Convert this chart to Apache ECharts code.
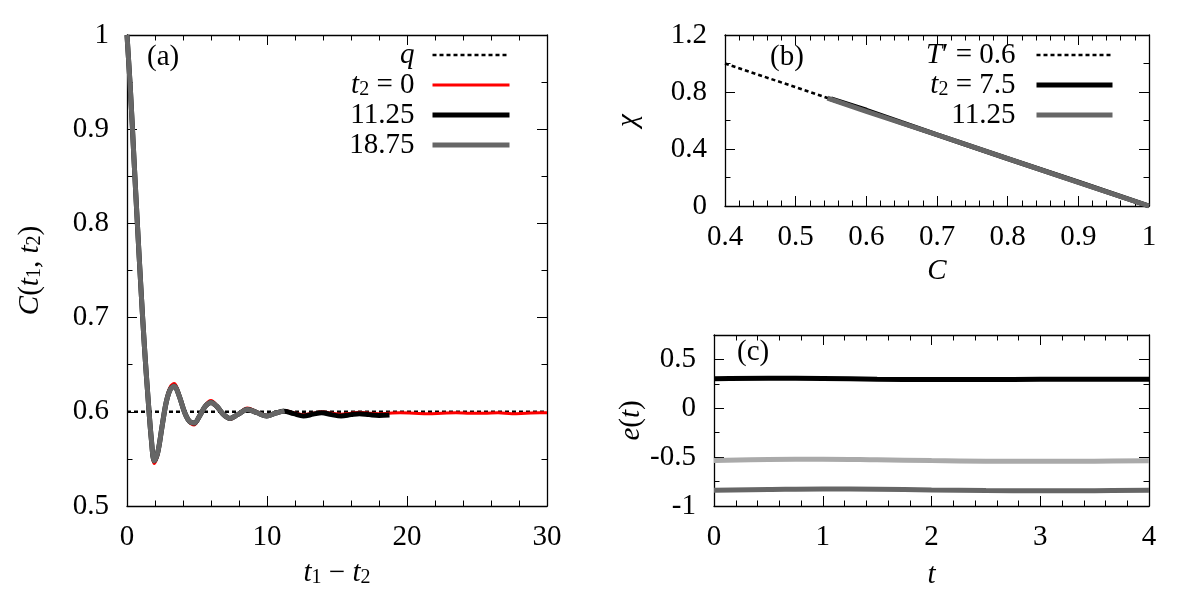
<!DOCTYPE html>
<html><head><meta charset="utf-8">
<script src="https://cdn.jsdelivr.net/npm/echarts@6/dist/echarts.min.js"></script>
<style>html,body{margin:0;padding:0;background:#fff}#c{width:1200px;height:600px}</style>
</head><body><div id="c"></div>
<script>
// ---------- Panel (a): C(t1,t2) vs t1 - t2 ----------
const aQT = [0, 30];
const aQC = [0.6, 0.6];
const aRedT = [0,0.25,0.5,0.75,1,1.25,1.5,1.75,1.95,2.2,2.5,2.8,3.1,3.38,3.7,4.1,4.45,4.8,5.2,5.6,6.0,6.4,6.9,7.36,7.9,8.6,9.3,9.98,10.6,11.2,11.9,12.6,13.3,13.9,14.6,15.3,16.0,16.6,17.3,18.0,18.7,19.5,20.5,21.5,22.5,23.5,24.5,25.5,26.5,27.5,28.5,29.5,30];
const aRedC = [1,0.94,0.868,0.796,0.728,0.666,0.612,0.566,0.545,0.554,0.583,0.612,0.627,0.630,0.620,0.600,0.589,0.586,0.595,0.607,0.612,0.607,0.597,0.592,0.597,0.604,0.600,0.596,0.599,0.6015,0.599,0.597,0.5985,0.600,0.5985,0.5975,0.5985,0.5995,0.5985,0.598,0.5985,0.599,0.5985,0.598,0.5985,0.599,0.5985,0.5985,0.599,0.598,0.5985,0.599,0.599];
const aBlackT = [0,0.25,0.5,0.75,1,1.25,1.5,1.75,1.95,2.2,2.5,2.8,3.1,3.38,3.7,4.1,4.45,4.8,5.2,5.6,6.0,6.4,6.9,7.36,7.9,8.6,9.3,9.98,10.6,11.2,11.9,12.6,13.3,13.9,14.6,15.3,16.0,16.6,17.3,18.0,18.75];
const aBlackC = [1,0.94,0.868,0.797,0.73,0.668,0.615,0.569,0.548,0.557,0.584,0.610,0.624,0.627,0.618,0.600,0.590,0.588,0.596,0.606,0.610,0.606,0.597,0.593,0.597,0.6025,0.599,0.5955,0.5985,0.6005,0.598,0.5955,0.5975,0.599,0.597,0.5955,0.597,0.598,0.597,0.5962,0.5965];
const aGrayT = [0,0.25,0.5,0.75,1,1.25,1.5,1.75,1.95,2.2,2.5,2.8,3.1,3.38,3.7,4.1,4.45,4.8,5.2,5.6,6.0,6.4,6.9,7.36,7.9,8.6,9.3,9.98,10.6,11.25];
const aGrayC = [1,0.94,0.868,0.797,0.73,0.668,0.615,0.569,0.548,0.557,0.584,0.610,0.624,0.627,0.618,0.600,0.590,0.588,0.596,0.606,0.610,0.606,0.597,0.593,0.597,0.6025,0.599,0.5955,0.5985,0.601];

// ---------- Panel (b): chi vs C ----------
const bTC = [0.4, 1.0];
const bTChi = [1.0, 0.0];
const bBlackC = [0.55,0.6,0.65,0.7,0.8,0.9,1.0];
const bBlackChi = [0.752,0.672,0.585,0.5,0.333,0.167,0.0];
const bGrayC = [0.545,0.6,0.7,0.8,0.9,1.0];
const bGrayChi = [0.757,0.664,0.5,0.333,0.166,0.0];

// ---------- Panel (c): e(t) vs t ----------
const cT = [0,0.5,1,1.5,2,2.5,3,3.5,4];
const cBlack = [0.303,0.308,0.305,0.298,0.295,0.295,0.296,0.297,0.296];
const cLight = [-0.535,-0.525,-0.521,-0.527,-0.535,-0.541,-0.543,-0.541,-0.538];
const cDark = [-0.838,-0.831,-0.826,-0.829,-0.836,-0.842,-0.844,-0.843,-0.840];

// ---------- Labels ----------
const legendLabels = {
  a_q: '{i|q}', a_t0: '{i|t}{s|2}{r| = 0}', a_b: '{r|11.25}', a_g: '{r|18.75}',
  b_T: '{i|T}{r|′ = 0.6}', b_75: '{i|t}{s|2}{r| = 7.5}', b_g: '{r|11.25}'
};
const panelLabels = ['(a)', '(b)', '(c)'];

const SERIF = 'Liberation Serif';
const FSZ = 29;

// warm up the serif faces so the first canvas draw uses them
(function warm() {
  const ctx = document.createElement('canvas').getContext('2d');
  ['', 'italic '].forEach(st => [FSZ, 20, 14].forEach(sz => {
    ctx.font = st + sz + 'px "' + SERIF + '", monospace';
    ctx.measureText('0123456789.() = −χ′ tqCeT');
    ctx.fillText('0123456789.() = −χ′ tqCeT', 0, 20);
  }));
})();

const rich = {
  r: {fontFamily: SERIF, fontSize: FSZ, lineHeight: 30, color: '#000'},
  i: {fontStyle: 'italic', fontFamily: SERIF, fontSize: FSZ, lineHeight: 30, color: '#000'},
  s: {fontFamily: SERIF, fontSize: 20, lineHeight: 16, verticalAlign: 'bottom', color: '#000'}
};
const pair = (xs, ys) => xs.map((x, i) => [x, ys[i]]);

function xAx(gi, pos, min, max, interval, minorSplit, labels, name, nameGap) {
  return {
    type: 'value', gridIndex: gi, position: pos, min, max, interval,
    axisLine: {show: true, onZero: false, lineStyle: {color: '#000', width: 1.3}},
    axisTick: {show: true, inside: true, length: 10, lineStyle: {color: '#000', width: 1}},
    minorTick: {show: minorSplit > 1, splitNumber: minorSplit, length: 5.5, lineStyle: {color: '#000', width: 1}},
    splitLine: {show: false}, minorSplitLine: {show: false},
    axisLabel: {show: labels, margin: 16, color: '#000', fontFamily: SERIF, fontSize: FSZ,
      formatter: v => '{r|' + v + '}', rich},
    name: name || '', nameLocation: 'middle', nameGap: nameGap || 0,
    nameTextStyle: {fontFamily: SERIF, fontSize: FSZ, color: '#000', lineHeight: 30, rich}
  };
}
function yAx(gi, pos, min, max, interval, minorSplit, labels, name, nameGap, fmt, tickLen) {
  return {
    type: 'value', gridIndex: gi, position: pos, min, max, interval,
    axisLine: {show: true, onZero: false, lineStyle: {color: '#000', width: 1.3}},
    axisTick: {show: true, inside: true, length: tickLen || 10, lineStyle: {color: '#000', width: 1}},
    minorTick: {show: minorSplit > 1, splitNumber: minorSplit || 1, length: 5.5, lineStyle: {color: '#000', width: 1}},
    splitLine: {show: false}, minorSplitLine: {show: false},
    axisLabel: {show: labels, margin: 18, color: '#000', fontFamily: SERIF, fontSize: FSZ,
      formatter: fmt || (v => '{r|' + v + '}'), rich},
    name: name || '', nameLocation: 'middle', nameGap: nameGap || 0, nameRotate: 90,
    nameTextStyle: {fontFamily: SERIF, fontSize: FSZ, color: '#000', lineHeight: 30, rich}
  };
}

const cYFmt = v => (Math.abs(v * 2 - Math.round(v * 2)) < 1e-6 ? '{r|' + v + '}' : '');

const legendCommon = {
  orient: 'vertical', align: 'right', padding: 0, itemGap: 0, itemHeight: 14,
  selectedMode: false, formatter: n => legendLabels[n],
  itemStyle: {opacity: 0, borderWidth: 0}
};

const option = {
  animation: false,
  backgroundColor: '#fff',
  textStyle: {fontFamily: SERIF},
  grid: [
    {left: 127, top: 35, width: 420, height: 471},
    {left: 725, top: 35, width: 424, height: 171},
    {left: 714, top: 335, width: 435, height: 171},
    {left: 714, top: 335, width: 435, height: 171}
  ],
  xAxis: [
    xAx(0, 'bottom', 0, 30, 10, 5, true, '{i|t}{s|1}{r| − }{i|t}{s|2}', 52),
    xAx(0, 'top', 0, 30, 10, 5, false),
    xAx(1, 'bottom', 0.4, 1, 0.1, 5, true, '{i|C}', 50),
    xAx(1, 'top', 0.4, 1, 0.1, 5, false),
    xAx(2, 'bottom', 0, 4, 1, 5, true, '{i|t}', 54),
    xAx(2, 'top', 0, 4, 1, 5, false),
    Object.assign(xAx(3, 'bottom', 0, 4, 1, 1, false), {show: false})
  ],
  yAxis: [
    yAx(0, 'left', 0.5, 1, 0.1, 2, true, '{i|C}{r|(}{i|t}{s|1}{r|, }{i|t}{s|2}{r|)}', 82),
    yAx(0, 'right', 0.5, 1, 0.1, 2, false),
    yAx(1, 'left', 0, 1.2, 0.4, 2, true, '{i|χ}', 82),
    yAx(1, 'right', 0, 1.2, 0.4, 2, false),
    yAx(2, 'left', -1, 0.75, 0.5, 1, true, '{i|e}{r|(}{i|t}{r|)}', 66, cYFmt),
    yAx(2, 'right', -1, 0.75, 0.5, 1, false),
    Object.assign(yAx(3, 'left', -1, 0.75, 0.25, 1, false, '', 0, null, 5.5), {axisLine: {show: false}}),
    Object.assign(yAx(3, 'right', -1, 0.75, 0.25, 1, false, '', 0, null, 5.5), {axisLine: {show: false}})
  ],
  legend: [
    Object.assign({}, legendCommon, {
      data: [
        {name: 'a_q', lineStyle: {width: 2.6}},
        {name: 'a_t0', lineStyle: {width: 3}},
        {name: 'a_b', lineStyle: {width: 5}},
        {name: 'a_g', lineStyle: {width: 5}}
      ],
      right: 688, top: 40, itemWidth: 77,
      textStyle: {fontFamily: SERIF, fontSize: FSZ, color: '#000', lineHeight: 30, padding: [0, 13, 0, 0], rich}
    }),
    Object.assign({}, legendCommon, {
      data: [
        {name: 'b_T', lineStyle: {width: 2.6}},
        {name: 'b_75', lineStyle: {width: 5}},
        {name: 'b_g', lineStyle: {width: 5}}
      ],
      right: 85, top: 40, itemWidth: 76,
      textStyle: {fontFamily: SERIF, fontSize: FSZ, color: '#000', lineHeight: 30, padding: [0, 16, 0, 0], rich}
    })
  ],
  graphic: [
    {type: 'text', left: 147, top: 43, style: {text: panelLabels[0], font: FSZ + 'px "Liberation Serif"', fill: '#000'}},
    {type: 'text', left: 770, top: 43, style: {text: panelLabels[1], font: FSZ + 'px "Liberation Serif"', fill: '#000'}},
    {type: 'text', left: 737, top: 338, style: {text: panelLabels[2], font: FSZ + 'px "Liberation Serif"', fill: '#000'}}
  ],
  series: [
    {name: 'a_q', type: 'line', xAxisIndex: 0, yAxisIndex: 0, data: pair(aQT, aQC), symbol: 'none', showSymbol: false,
      lineStyle: {color: '#000', width: 2.6, type: [4, 3]}, itemStyle: {color: '#000'}, z: 2},
    {name: 'a_t0', type: 'line', xAxisIndex: 0, yAxisIndex: 0, data: pair(aRedT, aRedC), symbol: 'none', showSymbol: false, smooth: 0.35,
      lineStyle: {color: '#ff0000', width: 3}, itemStyle: {color: '#ff0000'}, z: 3},
    {name: 'a_b', type: 'line', xAxisIndex: 0, yAxisIndex: 0, data: pair(aBlackT, aBlackC), symbol: 'none', showSymbol: false, smooth: 0.35,
      lineStyle: {color: '#000', width: 5}, itemStyle: {color: '#000'}, z: 4},
    {name: 'a_g', type: 'line', xAxisIndex: 0, yAxisIndex: 0, data: pair(aGrayT, aGrayC), symbol: 'none', showSymbol: false, smooth: 0.35,
      lineStyle: {color: '#666666', width: 5}, itemStyle: {color: '#666666'}, z: 5},

    {name: 'b_T', type: 'line', xAxisIndex: 2, yAxisIndex: 2, data: pair(bTC, bTChi), symbol: 'none', showSymbol: false,
      lineStyle: {color: '#000', width: 2.6, type: [4, 3]}, itemStyle: {color: '#000'}, z: 2},
    {name: 'b_75', type: 'line', xAxisIndex: 2, yAxisIndex: 2, data: pair(bBlackC, bBlackChi), symbol: 'none', showSymbol: false,
      lineStyle: {color: '#000', width: 5}, itemStyle: {color: '#000'}, z: 3},
    {name: 'b_g', type: 'line', xAxisIndex: 2, yAxisIndex: 2, data: pair(bGrayC, bGrayChi), symbol: 'none', showSymbol: false,
      lineStyle: {color: '#666666', width: 5}, itemStyle: {color: '#666666'}, z: 4},

    {name: 'c_black', type: 'line', xAxisIndex: 4, yAxisIndex: 4, data: pair(cT, cBlack), symbol: 'none', showSymbol: false, smooth: 0.4,
      lineStyle: {color: '#000', width: 5}, itemStyle: {color: '#000'}},
    {name: 'c_light', type: 'line', xAxisIndex: 4, yAxisIndex: 4, data: pair(cT, cLight), symbol: 'none', showSymbol: false, smooth: 0.4,
      lineStyle: {color: '#aaaaaa', width: 5}, itemStyle: {color: '#aaaaaa'}},
    {name: 'c_dark', type: 'line', xAxisIndex: 4, yAxisIndex: 4, data: pair(cT, cDark), symbol: 'none', showSymbol: false, smooth: 0.4,
      lineStyle: {color: '#666666', width: 5}, itemStyle: {color: '#666666'}}
  ]
};
const chart = echarts.init(document.getElementById('c'));
chart.setOption(option);
if (document.fonts && document.fonts.load) {
  Promise.all([
    document.fonts.load(FSZ + 'px "' + SERIF + '"'),
    document.fonts.load('italic ' + FSZ + 'px "' + SERIF + '"')
  ]).then(() => chart.setOption(option, true)).catch(() => {});
}
</script>
</body></html>
